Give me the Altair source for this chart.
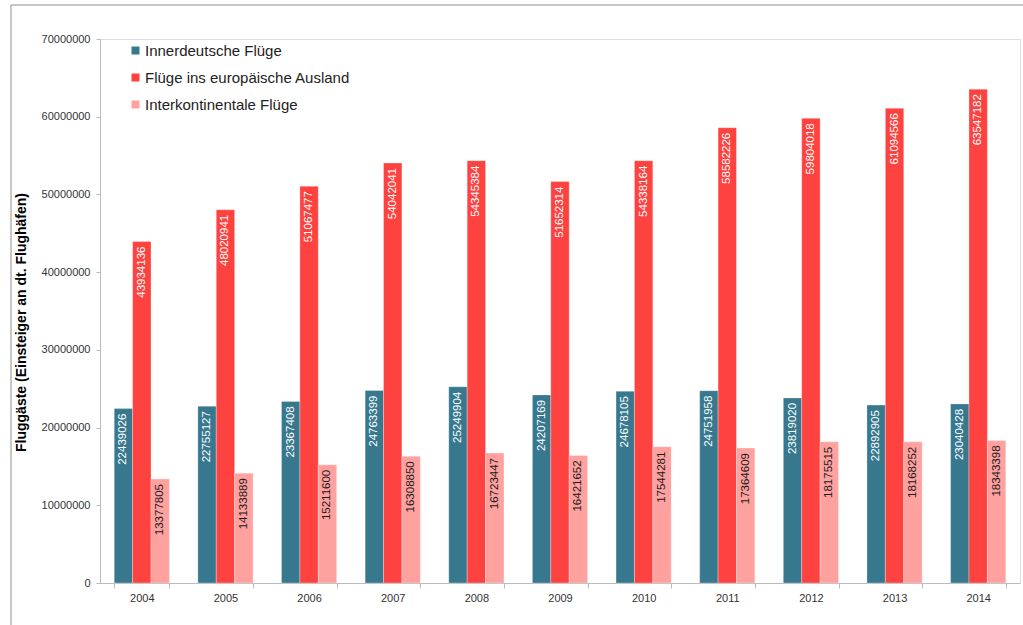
import altair as alt
import pandas as pd

years = ["2004", "2005", "2006", "2007", "2008", "2009", "2010", "2011", "2012", "2013", "2014"]
series = ["Innerdeutsche Flüge", "Flüge ins europäische Ausland", "Interkontinentale Flüge"]
innerdeutsch = [22439026, 22755127, 23367408, 24763399, 25249904, 24207169, 24678105, 24751958, 23819020, 22892905, 23040428]
europa = [43934136, 48020941, 51067477, 54042041, 54345384, 51652314, 54338164, 58582226, 59804018, 61094566, 63547182]
interkont = [13377805, 14133889, 15211600, 16308850, 16723447, 16421652, 17544281, 17364609, 18175515, 18168252, 18343398]
colors = ["#37788F", "#FE423F", "#FEA19F"]

rows = []
for vals, s in zip([innerdeutsch, europa, interkont], series):
    for y, v in zip(years, vals):
        rows.append({"year": y, "series": s, "value": v})
df = pd.DataFrame(rows)

FONT = "Liberation Sans"

x_enc = alt.X("year:N", sort=years, title=None,
              scale=alt.Scale(paddingInner=0.34, paddingOuter=0.17),
              axis=alt.Axis(labelAngle=0, labelFontSize=11, labelFont=FONT, labelColor="#333333",
                            tickBand="extent", tickSize=5, tickColor="#bbbbbb", domainColor="#bbbbbb",
                            labelPadding=4, grid=False))
xo_enc = alt.XOffset("series:N", sort=series, scale=alt.Scale(paddingInner=0))
y_enc = alt.Y("value:Q", title="Fluggäste (Einsteiger an dt. Flughäfen)",
              scale=alt.Scale(domain=[0, 70000000], nice=False),
              axis=alt.Axis(values=list(range(0, 70000001, 10000000)), format="d", grid=False,
                            labelFontSize=11, labelFont=FONT, labelColor="#333333",
                            tickSize=4, tickColor="#bbbbbb", domainColor="#bbbbbb", labelPadding=6,
                            titleFont=FONT, titleFontSize=14, titleFontWeight="bold", titleColor="#000000",
                            titleX=-79, titleY=283, titleAngle=270, titleAlign="center",
                            titleBaseline="middle"))

base = alt.Chart(df)

bars = base.mark_bar(stroke="white", strokeWidth=0.5, strokeOpacity=0.6).encode(
    x=x_enc, xOffset=xo_enc, y=y_enc,
    color=alt.Color("series:N", sort=series,
                    scale=alt.Scale(domain=series, range=colors),
                    legend=alt.Legend(orient="none", legendX=28, legendY=4, title=None,
                                      symbolType="square", symbolSize=64, symbolStrokeWidth=0,
                                      labelFontSize=15, labelFont=FONT, labelColor="#222222",
                                      labelLimit=0, rowPadding=11, labelOffset=2)),
)

labels = base.mark_text(angle=270, align="right", baseline="middle", dx=-5,
                        fontSize=11.5, font=FONT).encode(
    x=alt.X("year:N", sort=years), xOffset=xo_enc, y="value:Q",
    text=alt.Text("value:Q", format="d"),
    color=alt.condition(alt.datum.series == "Interkontinentale Flüge",
                        alt.value("#1a1a1a"), alt.value("white")),
)

frame_df = pd.DataFrame({"k": [0]})
top_line = alt.Chart(frame_df).mark_rule(color="#8f8f8f", strokeWidth=1).encode(
    x=alt.value(-89), x2=alt.value(940), y=alt.value(-34))
left_line = alt.Chart(frame_df).mark_rule(color="#8f8f8f", strokeWidth=1).encode(
    x=alt.value(-89), y=alt.value(-34), y2=alt.value(600))

chart = alt.layer(bars, labels, top_line, left_line).properties(
    width=920, height=544,
    autosize=alt.AutoSizeParams(type="none"),
    padding={"left": 100, "top": 39, "right": 3, "bottom": 42},
).configure_view(stroke=None).configure(background="white")

chart.save("out.html", embed_options={"renderer": "svg", "actions": False})
